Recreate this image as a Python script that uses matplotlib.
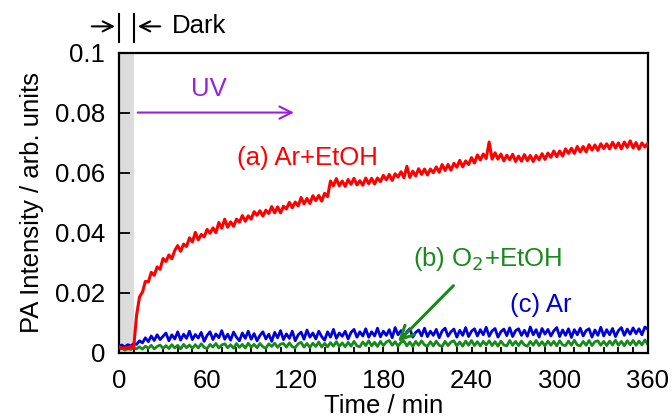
import numpy as np
import matplotlib
matplotlib.use('Agg')
import matplotlib.pyplot as plt
from matplotlib.ticker import MultipleLocator, FixedLocator, FixedFormatter

plt.rcParams['font.family'] = ['Liberation Sans', 'DejaVu Sans']

# sampling times (min), every 2 min
time_min = np.arange(0, 361, 2)

# PA intensity, in units of 1e-4 arb. units
ar_etoh = [
    20, 14, 18, 13, 22, 16, 125, 186, 202, 238,
    236, 268, 258, 286, 278, 314, 304, 326, 313, 341,
    357, 338, 362, 354, 383, 369, 401, 376, 394, 386,
    411, 398, 416, 400, 434, 415, 445, 418, 436, 421,
    445, 435, 457, 438, 456, 445, 470, 458, 473, 455,
    475, 464, 487, 466, 486, 466, 488, 479, 501, 483,
    502, 489, 517, 496, 514, 497, 523, 507, 524, 505,
    531, 520, 572, 556, 580, 556, 572, 554, 577, 561,
    581, 559, 573, 558, 582, 563, 581, 562, 582, 570,
    591, 576, 594, 574, 596, 585, 603, 583, 621, 584,
    605, 589, 613, 594, 612, 592, 612, 600, 619, 601,
    627, 607, 627, 608, 631, 618, 641, 619, 639, 627,
    650, 632, 659, 642, 662, 647, 702, 645, 666, 645,
    662, 639, 658, 643, 661, 637, 655, 638, 660, 640,
    657, 637, 657, 643, 663, 644, 665, 651, 672, 653,
    672, 655, 679, 664, 681, 664, 687, 669, 687, 669,
    693, 675, 692, 674, 696, 680, 696, 679, 701, 682,
    699, 679, 702, 684, 706, 682, 700, 678, 699, 685,
    698,
]
o2_etoh = [
    12, 16, 9, 15, 11, 17,
    13, 20, 12, 22, 15, 25, 13, 21, 26, 15,
    24, 14, 27, 16, 25, 13, 28, 17, 26, 15,
    27, 16, 30, 18, 14, 28, 19, 31, 16, 26,
    30, 17, 27, 15, 31, 18, 28, 16, 32, 19,
    28, 17, 31, 20, 15, 30, 21, 32, 18, 29,
    31, 19, 33, 20, 17, 30, 35, 19, 31, 18,
    32, 21, 36, 19, 31, 20, 34, 22, 37, 21,
    33, 20, 35, 22, 38, 23, 20, 36, 24, 40,
    23, 35, 21, 38, 24, 36, 41, 25, 37, 22,
    35, 39, 23, 36, 21, 38, 25, 40, 26, 22,
    37, 23, 39, 25, 21, 38, 24, 36, 40, 23,
    36, 22, 39, 25, 41, 24, 37, 23, 38, 26,
    40, 24, 37, 22, 39, 26, 23, 41, 25, 38,
    24, 39, 26, 22, 38, 25, 41, 24, 37, 23,
    39, 25, 38, 23, 40, 26, 24, 39, 25, 42,
    26, 23, 38, 25, 41, 24, 37, 40, 25, 38,
    24, 39, 26, 42, 25, 38, 23, 40, 27, 41,
    25, 39, 26, 43, 28,
]
ar_only = [
    22, 26, 19, 27, 23, 30,
    28, 40, 33, 50, 37, 56, 41, 60, 44, 55,
    66, 40, 60, 46, 70, 42, 62, 48, 72, 44,
    61, 49, 68, 38, 58, 70, 44, 63, 50, 74,
    45, 62, 42, 69, 52, 40, 66, 48, 72, 45,
    64, 40, 58, 70, 46, 62, 38, 68, 50, 74,
    44, 63, 48, 72, 40, 60, 69, 45, 76, 52,
    66, 46, 72, 54, 42, 70, 52, 78, 48, 66,
    55, 72, 46, 68, 78, 52, 70, 56, 80, 52,
    70, 56, 82, 53, 72, 58, 77, 50, 84, 60,
    74, 54, 70, 80, 52, 68, 76, 56, 82, 54,
    72, 58, 78, 50, 73, 82, 55, 70, 79, 52,
    75, 58, 84, 54, 72, 80, 56, 77, 60, 85,
    55, 73, 81, 52, 70, 79, 57, 83, 54, 74,
    80, 58, 75, 55, 86, 60, 77, 52, 81, 62,
    78, 56, 73, 84, 54, 76, 58, 80, 51, 77,
    60, 82, 56, 74, 80, 52, 76, 58, 85, 56,
    77, 60, 81, 54, 74, 84, 58, 79, 62, 83,
    64, 80, 60, 86, 78,
]

y_ticks = [0, 0.02, 0.04, 0.06, 0.08, 0.1]
y_tick_labels = ['0', '0.02', '0.04', '0.06', '0.08', '0.1']
x_ticks = [0, 60, 120, 180, 240, 300, 360]
dark_end = 10

scale = 1e-4
red = '#ff0000'
green = '#178a1b'
blue = '#0000dd'
purple = '#9b1fd8'
fs = 18.5

fig = plt.figure(figsize=(6.72, 4.2), dpi=100)
ax = fig.add_axes([0.177, 0.16, 0.787, 0.715])

# dark period shading
ax.axvspan(0, dark_end, color='#dcdcdc', lw=0, zorder=0)

ax.plot(time_min, np.array(o2_etoh) * scale, color=green, lw=2.0, zorder=2)
ax.plot(time_min, np.array(ar_only) * scale, color=blue, lw=2.0, zorder=3)
ax.plot(time_min, np.array(ar_etoh) * scale, color=red, lw=2.2, zorder=4)

ax.set_xlim(0, 360)
ax.set_ylim(0, 0.1)
ax.xaxis.set_major_locator(FixedLocator(x_ticks))
ax.xaxis.set_minor_locator(MultipleLocator(10))
ax.yaxis.set_major_locator(FixedLocator(y_ticks))
ax.yaxis.set_major_formatter(FixedFormatter(y_tick_labels))
ax.tick_params(axis='x', which='both', direction='in', length=4, width=1.3,
               labelsize=fs, pad=12)
ax.tick_params(axis='y', which='major', direction='in', length=8, width=1.3,
               labelsize=fs, pad=10)
for sp in ax.spines.values():
    sp.set_linewidth(1.6)

ax.set_xlabel('Time / min', fontsize=fs, labelpad=0.5)
ax.set_ylabel('PA Intensity / arb. units', fontsize=fs, labelpad=8)

# UV arrow
ax.annotate('', xy=(121, 0.08), xytext=(10.9, 0.08),
            arrowprops=dict(arrowstyle='->', color=purple, lw=1.5,
                            mutation_scale=22))
ax.text(61, 0.088, 'UV', color=purple, fontsize=fs, ha='center', va='center')

# "Dark" bracket above the axes
for xv in (0, dark_end):
    ax.plot([xv, xv], [0.1034, 0.1127], color='black', lw=1.5, clip_on=False)
ax.annotate('', xy=(-0.8, 0.1087), xytext=(-20.4, 0.1087), annotation_clip=False,
            arrowprops=dict(arrowstyle='->', color='black', lw=1.5, mutation_scale=18))
ax.annotate('', xy=(11, 0.1087), xytext=(30, 0.1087), annotation_clip=False,
            arrowprops=dict(arrowstyle='->', color='black', lw=1.5, mutation_scale=18))
ax.text(36, 0.1087, 'Dark', fontsize=fs, ha='left', va='center')

# curve labels
ax.text(128, 0.065, '(a) Ar+EtOH', color=red, fontsize=fs, ha='center', va='center')
ax.text(251, 0.0313, '(b) O$_2$+EtOH', color=green, fontsize=fs, ha='center', va='center')
ax.text(287, 0.016, '(c) Ar', color=blue, fontsize=fs, ha='center', va='center')
ax.annotate('', xy=(188.6, 0.003), xytext=(229, 0.023),
            arrowprops=dict(arrowstyle='->', color=green, lw=2.2, mutation_scale=24))

fig.savefig('out.png', dpi=100)
